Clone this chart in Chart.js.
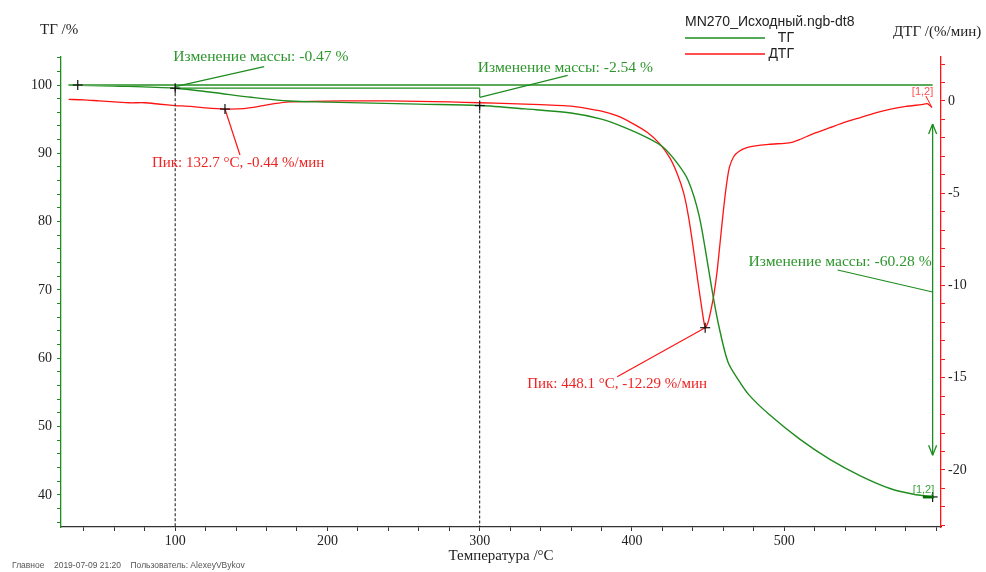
<!DOCTYPE html>
<html><head><meta charset="utf-8">
<script src="https://cdn.jsdelivr.net/npm/chart.js@4/dist/chart.umd.min.js"></script>
<style>html,body{margin:0;padding:0;background:#fff}#w{width:986px;height:572px;position:relative}</style>
</head><body><div id="w"><canvas id="c"></canvas></div>
<script>
// ---- data ----
const tgTemp = [30,60,100,125,150,175,200,230,260,300,330,360,380,395,410,420,430,437,444,450,453,457,463,470,477,490,510,530,550,570,585,597];
const tgVal  = [100.0,99.85,99.53,98.9,98.2,97.65,97.5,97.35,97.2,97.0,96.5,95.9,95.0,93.8,92.3,91.0,88.5,86.0,81.0,73.5,69.5,64.8,59.5,56.8,54.6,51.8,48.2,45.2,42.8,40.9,40.1,39.7];
const dtgTemp = [30,40,50,60,70,80,90,100,110,120,132.7,145,155,165,175,190,210,240,260,280,300,320,340,360,370,380,390,400,410,418,425,430,434,437,440,443,446,448.1,450,452,454,456,458,460,462,464,467,470,475,480,490,500,505,510,520,530,540,550,560,570,580,590,594,597];
const dtgVal  = [0.08,0.06,0.0,-0.05,-0.1,-0.1,-0.18,-0.25,-0.3,-0.38,-0.44,-0.42,-0.3,-0.15,-0.05,-0.02,0.0,0.0,-0.02,-0.05,-0.1,-0.15,-0.2,-0.28,-0.4,-0.55,-0.8,-1.2,-1.7,-2.3,-3.1,-4.0,-5.0,-6.2,-7.8,-9.6,-11.3,-12.29,-12.0,-11.3,-10.4,-9.2,-7.6,-6.0,-4.6,-3.6,-3.0,-2.75,-2.55,-2.45,-2.35,-2.3,-2.25,-2.1,-1.75,-1.45,-1.15,-0.9,-0.65,-0.45,-0.3,-0.2,-0.15,-0.35];
const xTicks = [40,60,80,100,120,140,160,180,200,220,240,260,280,300,320,340,360,380,400,420,440,460,480,500,520,540,560,580,600];
const xLabels = [100,200,300,400,500];
const tgTicks = [36,38,40,42,44,46,48,50,52,54,56,58,60,62,64,66,68,70,72,74,76,78,80,82,84,86,88,90,92,94,96,98,100,102,104];
const tgLabels = [40,50,60,70,80,90,100];
const dtgTicks = [-23,-22,-21,-20,-19,-18,-17,-16,-15,-14,-13,-12,-11,-10,-9,-8,-7,-6,-5,-4,-3,-2,-1,0,1,2];
const dtgLabels = [-20,-15,-10,-5,0];
const legendTitle = 'MN270_Исходный.ngb-dt8';
const seriesNames = ['ТГ','ДТГ'];
const massSteps = [{t0:30,t1:100,v0:100,v1:99.53,label:'Изменение массы: -0.47 %'},{t0:100,t1:300,v0:99.53,v1:97.0,label:'Изменение массы: -2.54 %'},{t0:300,t1:597.5,v0:94.3,v1:45.8,label:'Изменение массы: -60.28 %'}];
const peaks = [{t:132.7,v:-0.44,label:'Пик: 132.7 °C, -0.44 %/мин'},{t:448.1,v:-12.29,label:'Пик: 448.1 °C, -12.29 %/мин'}];

const GREEN='rgb(30,140,30)', RED='rgb(255,20,20)', TXTG='rgb(45,150,45)', TXTR='rgb(240,35,35)';
const SERIF="'Liberation Serif','Times New Roman',serif", SANS="'Liberation Sans',Arial,sans-serif";

function mkTicks(arr){return s=>{s.ticks=arr.map(v=>({value:v}));};}

const deco = {
  id:'deco',
  afterDatasetsDraw(c){
    const ctx=c.ctx, X=v=>c.scales.x.getPixelForValue(v), Y=v=>c.scales.y.getPixelForValue(v), Y2=v=>c.scales.y2.getPixelForValue(v);
    const line=(x1,y1,x2,y2,col,w,dash)=>{ctx.save();ctx.strokeStyle=col;ctx.lineWidth=w||1;ctx.setLineDash(dash||[]);ctx.beginPath();ctx.moveTo(x1,y1);ctx.lineTo(x2,y2);ctx.stroke();ctx.restore();};
    const txt=(s,x,y,col,font,al)=>{ctx.save();ctx.fillStyle=col;ctx.font=font;ctx.textAlign=al||'left';ctx.textBaseline='middle';ctx.fillText(s,x,y);ctx.restore();};
    const cross=(x,y)=>{line(x-5,y,x+5,y,'#111',1.2);line(x,y-5,x,y+5,'#111',1.2);};
    const bottom=c.chartArea.bottom;
    const s1=massSteps[0], s2=massSteps[1], s3=massSteps[2];
    const GF='15.6px '+SERIF;
    // dashed verticals
    line(X(s1.t1),Y(s1.v1),X(s1.t1),bottom,'#111',1,[3,2]);
    line(X(s2.t1),Y(s2.v1),X(s2.t1),bottom,'#111',1,[3,2]);
    // step lines
    line(X(s1.t0),Y(s1.v0),X(s3.t1),Y(s1.v0),'rgb(90,170,90)',2);
    line(X(s2.t0),Y(s2.v0),X(s2.t1),Y(s2.v0),GREEN,1.3);
    line(X(s1.t1),Y(s1.v0),X(s1.t1),Y(s1.v1),GREEN,1.2);
    const m2=Y(98.2);
    line(X(s2.t1),Y(s2.v0),X(s2.t1),m2,GREEN,1.2);
    // leaders
    const m1=(Y(s1.v0)+Y(s1.v1))/2;
    line(X(s1.t1),m1,X(s1.t1)+89,m1-20,GREEN,1.2);
    txt(s1.label,X(s1.t1)-2,57,TXTG,GF);
    line(X(s2.t1),m2,X(s2.t1)+88,m2-22,GREEN,1.2);
    txt(s2.label,X(s2.t1)-2,68,TXTG,GF);
    // double arrow
    const ax=X(s3.t1), ay1=Y(s3.v0), ay2=Y(s3.v1);
    line(ax,ay1,ax,ay2,GREEN,1.3);
    line(ax,ay1,ax-4,ay1+10,GREEN,1.3);line(ax,ay1,ax+4,ay1+10,GREEN,1.3);
    line(ax,ay2,ax-4,ay2-10,GREEN,1.3);line(ax,ay2,ax+4,ay2-10,GREEN,1.3);
    const m3=Y(69.7);
    line(ax,m3,ax-95,m3-22,GREEN,1.2);
    txt(s3.label,ax-1,262,TXTG,GF,'right');
    // peaks
    const p1=peaks[0], p2=peaks[1];
    line(X(p1.t),Y2(p1.v),X(p1.t)+15,Y2(p1.v)+46,RED,1.2);
    txt(p1.label,X(p1.t)-73,163,TXTR,'15px '+SERIF);
    line(X(p2.t),Y2(p2.v),X(p2.t)-88,Y2(p2.v)+49,RED,1.2);
    txt(p2.label,X(p2.t)-178,384,TXTR,'15px '+SERIF);
    // crosses
    cross(X(36),Y(100)); cross(X(s1.t1),Y(s1.v1)); cross(X(s2.t1),Y(s2.v1));
    cross(X(p1.t),Y2(p1.v)); cross(X(p2.t),Y2(p2.v));
    cross(X(597.5),Y(39.7));
    // [1,2] labels
    const le=tgTemp.length-1, de=dtgTemp.length-1;
    txt('[1,2]',X(dtgTemp[de])-20,92,'rgb(255,80,80)','11px '+SANS);
    line(X(dtgTemp[de])-6,96,X(dtgTemp[de]),Y2(dtgVal[de]),RED,1);
    line(X(tgTemp[le])-9,Y(tgVal[le]),X(tgTemp[le])+2,Y(tgVal[le]),'rgb(0,110,0)',3);
    txt('[1,2]',X(tgTemp[le])-19,490,'rgb(60,160,60)','11px '+SANS);
    // axis titles
    txt('ТГ /%',40,30,'#222','15px '+SERIF);
    txt('ДТГ /(%/мин)',893,32,'#222','15px '+SERIF);
    txt('Температура /°C',501,556,'#222','15px '+SERIF,'center');
    // legend
    txt(legendTitle,685,22,'#222','14px '+SANS);
    line(685,38,765,38,GREEN,1.3);
    line(685,54,765,54,RED,1.3);
    txt(seriesNames[0],794,38,'#222','14px '+SANS,'right');
    txt(seriesNames[1],794,54,'#222','14px '+SANS,'right');
    // footer
    txt('Главное    2019-07-09 21:20    Пользователь: AlexeyVBykov',12,566,'#555','8.5px '+SANS);
  }
};

new Chart(document.getElementById('c'),{
  type:'line',
  data:{datasets:[
    {label:seriesNames[0],data:tgTemp.map((t,i)=>({x:t,y:tgVal[i]})),yAxisID:'y',borderColor:GREEN,borderWidth:1.4,pointRadius:0,tension:0.3,fill:false},
    {label:seriesNames[1],data:dtgTemp.map((t,i)=>({x:t,y:dtgVal[i]})),yAxisID:'y2',borderColor:RED,borderWidth:1.3,pointRadius:0,tension:0.2,fill:false}
  ]},
  options:{
    responsive:true,maintainAspectRatio:false,animation:false,
    layout:{padding:{top:57,left:0,right:0,bottom:0}},
    plugins:{legend:{display:false},tooltip:{enabled:false}},
    scales:{
      x:{type:'linear',position:'bottom',min:25,max:603,afterBuildTicks:mkTicks(xTicks),afterFit:s=>{s.height=45;},
        grid:{drawOnChartArea:false,drawTicks:true,tickLength:4,color:'#333'},border:{display:true,color:'#333',width:1.3},
        ticks:{autoSkip:false,maxRotation:0,padding:2,color:'#222',font:{family:SERIF,size:14},callback:v=>xLabels.includes(v)?String(v):''}},
      y:{type:'linear',position:'left',min:35.3,max:104.1,afterBuildTicks:mkTicks(tgTicks),afterFit:s=>{s.width=61;},
        grid:{drawOnChartArea:false,drawTicks:true,tickLength:4,color:GREEN},border:{display:true,color:GREEN,width:1.3},
        ticks:{autoSkip:false,padding:5,color:'#222',font:{family:SERIF,size:14},callback:v=>tgLabels.includes(v)?String(v):''}},
      y2:{type:'linear',position:'right',min:-23.09,max:2.38,afterBuildTicks:mkTicks(dtgTicks),afterFit:s=>{s.width=45;},
        grid:{drawOnChartArea:false,drawTicks:true,tickLength:4,color:RED},border:{display:true,color:RED,width:1.3},
        ticks:{autoSkip:false,padding:3,color:'#222',font:{family:SERIF,size:14},callback:v=>dtgLabels.includes(v)?String(v):''}}
    }
  },
  plugins:[deco]
});
</script></body></html>
